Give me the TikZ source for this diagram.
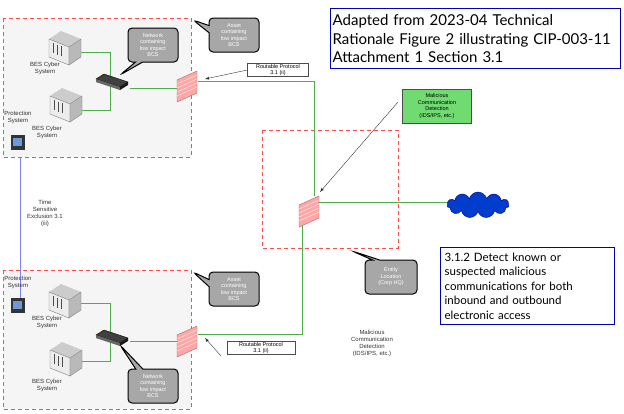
\documentclass[tikz,border=0pt]{standalone}
\usepackage{fontspec}
\setmainfont{Liberation Sans}
\newfontfamily\titlefont{Lato}
\usetikzlibrary{shapes.callouts,shapes.symbols}
\begin{document}
\begin{tikzpicture}[x=1pt,y=-1pt,
  zone/.style={draw=red!70,dashed,line width=0.9pt,dash pattern=on 4pt off 3pt},
  link/.style={draw=green!55!black!70,line width=1pt},
  lbl/.style={font=\fontsize{6}{7}\selectfont,align=center,text=black!80},
  call/.style={rectangle callout,rounded corners=4pt,draw=black,line width=1pt,fill=gray!85!black!60,text=white,font=\fontsize{5.5}{6.5}\selectfont,align=center,minimum width=50pt,minimum height=34pt,inner sep=1pt},
  box/.style={draw=black!70,fill=white,font=\fontsize{5.5}{6}\selectfont,align=center,inner sep=1pt},
  big/.style={draw=blue!70!black,line width=1.3pt,align=left,inner sep=4pt,anchor=north west}]
\useasboundingbox (0,0) rectangle (624,413);
\tikzset{
 server/.pic={\fill[gray!40] (-16,-6)--(-4,-14)--(16,-6)--(4,2)--cycle;
   \fill[gray!15,draw=gray] (-16,-6)--(4,2)--(4,20)--(-16,12)--cycle;
   \fill[gray!55,draw=gray] (4,2)--(16,-6)--(16,12)--(4,20)--cycle;
   \foreach \i/\o in {-12/0,-8/1.6,-4/3.2}{\draw[black!70,line width=0.8pt] (\i,-2+\o)--(\i,8+\o);}},
 switch/.pic={\fill[black!75,draw=black] (-16,-3)--(-8,-8)--(16,0)--(8,5)--cycle;
   \fill[black!60] (-16,-3)--(8,5)--(8,8)--(-16,0)--cycle; \fill[black!90] (8,5)--(16,0)--(16,3)--(8,8)--cycle;},
 fw/.pic={\fill[red!35,draw=red!50!black!60] (-10,-4)--(10,-13)--(10,9)--(-10,18)--cycle;
   \foreach \k in {4,8,...,16}{\draw[red!10,line width=0.5pt] (-10,-4+\k)--(10,-13+\k);}},
 mon/.pic={\fill[black!80] (-7,-8) rectangle (7,7); \fill[cyan!50!blue!60] (-5,-5) rectangle (4,3);}
}
% zones
\fill[gray!8] (3,18) rectangle (191,157);
\draw[zone] (3,18) rectangle (191,157);
\fill[gray!8] (3,270) rectangle (191,409);
\draw[zone] (3,270) rectangle (191,409);
\draw[zone] (262,130) rectangle (398,248);
% links
\draw[link] (80,52) -| (110,82); \draw[link] (80,110) -| (110,82);
\draw[link] (130,88) -- (180,88);
\draw[link] (80,303) -| (110,338); \draw[link] (80,361) -| (110,338);
\draw[link] (130,341) -- (180,341);
\draw[link] (198,81) -| (314,196);
\draw[link] (318,202) -- (448,202);
\draw[link] (302,218) |- (198,334);
\draw[blue!50,line width=0.8pt] (20,158) -- (20,298);
% devices
\pic at (65,45) {server}; \pic at (66,102) {server};
\pic at (65,298) {server}; \pic at (66,356) {server};
\pic at (112,82) {switch}; \pic at (112,338) {switch};
\pic at (187,84) {fw}; \pic at (187,339) {fw}; \pic at (309,209) {fw};
\pic at (18,143) {mon}; \pic at (18,306) {mon};
\node[cloud,cloud puffs=11,aspect=2.5,draw=blue!60!black,fill=blue!70!cyan!80!black,minimum width=62pt,minimum height=26pt,inner sep=0] (cl) at (478,205) {};
% labels
\node[lbl] (b1) at (45,68) {BES Cyber\\System};
\node[lbl] (b2) at (47,132) {BES Cyber\\System};
\node[lbl] (p1) at (18,117) {Protection\\System};
\node[lbl] (b3) at (47,322) {BES Cyber\\System};
\node[lbl] (b4) at (47,385) {BES Cyber\\System};
\node[lbl] (p2) at (18,282) {Protection\\System};
\node[lbl] (ts) at (45,213) {Time\\Sensitive\\Exclusion 3.1\\(iii)};
\node[lbl] (md) at (372,343) {Malicious\\Communication\\Detection\\(IDS/IPS, etc.)};
% callouts
\node[call,callout absolute pointer={(120,75)}] (n1) at (153,45) {Network\\containing\\low impact\\BCS};
\node[call,callout absolute pointer={(193,20)}] (a1) at (234,35) {Asset\\containing\\low impact\\BCS};
\node[call,callout absolute pointer={(193,272)}] (a2) at (234,289) {Asset\\containing\\low impact\\BCS};
\node[call,callout absolute pointer={(120,345)}] (n2) at (153,386) {Network\\containing\\low impact\\BCS};
\node[call,callout absolute pointer={(352,251)},minimum width=52pt] (el) at (391,277) {Entity\\Location\\(Corp HQ)};
% boxes
\node[box,minimum width=61pt] (r1) at (278,70) {Routable Protocol\\3.1 (ii)};
\node[box,minimum width=68pt] (r2) at (261,348) {Routable Protocol\\3.1 (ii)};
\node[draw=black!70,fill=green!60!gray!70,font=\fontsize{5.5}{6.5}\selectfont,align=center,minimum width=69pt,minimum height=34pt,inner sep=1pt] (mb) at (437,106) {Malicious\\Communication\\Detection\\(IDS/IPS, etc.)};
\draw[-latex,black!80] (r1.west) -- (205,79);
\draw[-latex,black!80] (221,356) -- (205,338);
\draw[-latex,black!80] (398,102) -- (320,192);
\node[big,font=\titlefont\fontsize{15}{18.5}\selectfont,text width=286pt,inner xsep=2pt,minimum height=60pt] (t) at (330,8) {Adapted from 2023-04 Technical\\Rationale Figure 2 illustrating CIP-003-11\\Attachment 1 Section 3.1};
\node[big,font=\titlefont\fontsize{11.5}{14.5}\selectfont,text width=166pt,minimum height=77pt] (d) at (440,247) {3.1.2 Detect known or\\suspected malicious\\communications for both\\inbound and outbound\\electronic access};
\end{tikzpicture}
\end{document}
